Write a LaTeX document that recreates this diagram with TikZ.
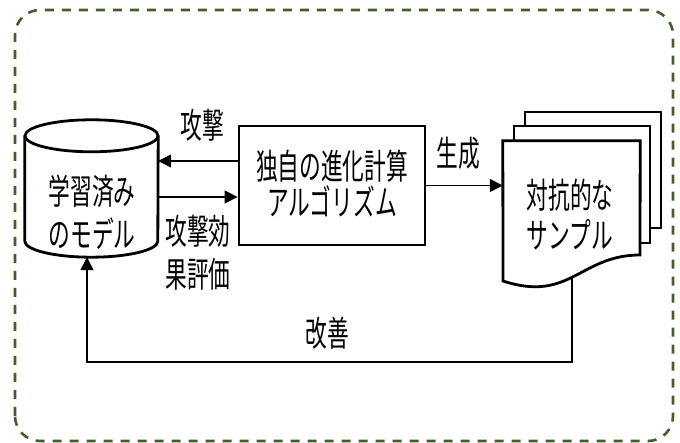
\documentclass[tikz,border=0pt]{standalone}
\usepackage{fontspec}
\newfontfamily\jp[FakeStretch=0.62]{Noto Sans CJK JP}
\usetikzlibrary{arrows.meta}
\definecolor{frame}{RGB}{67,95,40}
\tikzset{
  thickline/.style={line width=2.8pt},
  arr/.style={line width=1.5pt,-{Triangle[length=13pt,width=13pt]}},
  txt/.style={font=\jp\fontsize{35}{40}\selectfont,align=center,inner sep=0pt}
}
\begin{document}
\begin{tikzpicture}[x=1pt,y=1pt]
    \useasboundingbox (0,0) rectangle (680,443);
    \draw[frame,line width=2.6pt,dash pattern=on 9pt off 8pt,rounded corners=25pt]
      (15,2) rectangle (673,433);

    % trained model (cylinder)
    \node[minimum width=133pt,minimum height=137pt,inner sep=0pt] (model) at (91.5,254.5) {};
    \draw[thickline] ([yshift=-16pt]model.north west) -- ([yshift=16pt]model.south west)
      arc[start angle=180,end angle=360,x radius=66.5pt,y radius=16pt]
      -- ([yshift=-16pt]model.north east);
    \draw[thickline] ([yshift=-16pt]model.north) ellipse [x radius=66.5pt,y radius=16pt];
    \node[txt] (modeltext) at (92,231) {学習済み\\[3pt]のモデル};

    % algorithm box
    \node[draw,thickline,minimum width=186pt,minimum height=119pt,inner sep=0pt] (algo) at (332,257.5) {};
    \node[txt] (algotext) at (332,259) {独自の進化計算\\[-4pt]アルゴリズム};

    % adversarial samples (stack of documents)
    \draw[thickline,fill=white] (525,215) rectangle (661,331);
    \draw[thickline,fill=white] (514,200) rectangle (650,317);
    \node[minimum width=137pt,minimum height=141pt,inner sep=0pt] (samples) at (571.5,231.5) {};
    \draw[thickline,fill=white] (samples.north west) -- (samples.north east) -- (640,188)
      .. controls (580,188) and (570,140) .. (503,162) -- cycle;
    \node[txt] (samplestext) at (570,228) {対抗的な\\[0pt]サンプル};

    % connectors
    \draw[arr] ([yshift=24.5pt]algo.west) -- ([yshift=24.5pt]algo.west -| model.east);
    \draw[arr] ([yshift=-11.5pt]algo.west -| model.east) -- ([yshift=-11.5pt]algo.west);
    \draw[arr] (algo.east) -- (algo.east -| samples.west);
    \coordinate (wave) at (572,166);
    \coordinate (fb) at (572,81);
    \draw[line width=1.2pt,-{Triangle[length=13pt,width=13pt]}] (wave) -- (fb) -| ([xshift=-4.5pt]model.south);

    % labels
    \node[txt] (attack) at (202,318) {攻撃};
    \node[txt] (evaluate) at (198,190) {攻撃効\\[3pt]果評価};
    \node[txt] (generate) at (458,290) {生成};
    \node[txt] (improve) at (327,110) {改善};
\end{tikzpicture}
\end{document}
